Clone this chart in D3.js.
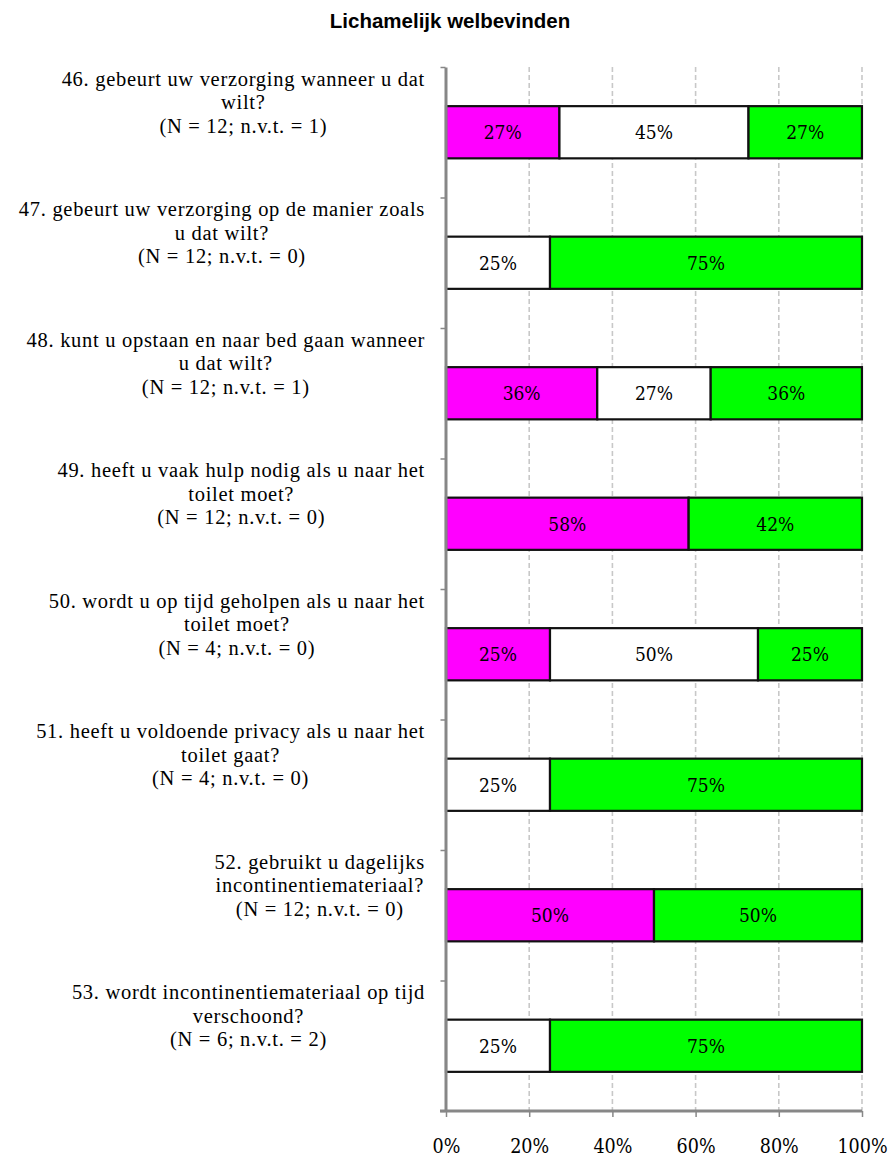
<!DOCTYPE html>
<html>
<head>
<meta charset="utf-8">
<script src="https://cdn.jsdelivr.net/npm/d3@7/dist/d3.min.js"></script>
<style>
  html, body { margin: 0; padding: 0; background: #fff; }
  svg { display: block; }
</style>
</head>
<body>
<svg id="chart" width="895" height="1158"></svg>
<script>
// Questions (each drawn as up to three centred lines)
const questions = [
  ["46. gebeurt uw verzorging wanneer u dat", "wilt?", "(N = 12; n.v.t. = 1)"],
  ["47. gebeurt uw verzorging op de manier zoals", "u dat wilt?", "(N = 12; n.v.t. = 0)"],
  ["48. kunt u opstaan en naar bed gaan wanneer", "u dat wilt?", "(N = 12; n.v.t. = 1)"],
  ["49. heeft u vaak hulp nodig als u naar het", "toilet moet?", "(N = 12; n.v.t. = 0)"],
  ["50. wordt u op tijd geholpen als u naar het", "toilet moet?", "(N = 4; n.v.t. = 0)"],
  ["51. heeft u voldoende privacy als u naar het", "toilet gaat?", "(N = 4; n.v.t. = 0)"],
  ["52. gebruikt u dagelijks", "incontinentiemateriaal?", "(N = 12; n.v.t. = 0)"],
  ["53. wordt incontinentiemateriaal op tijd", "verschoond?", "(N = 6; n.v.t. = 2)"]
];

// Answer shares in percent, per question
const valuesPink  = [27.27, 0,  36.36, 58.33, 25, 0,  50, 0];
const valuesWhite = [45.45, 25, 27.27, 0,     50, 25, 0,  25];
const valuesGreen = [27.27, 75, 36.36, 41.67, 25, 75, 50, 75];

const seriesKeys   = ["pink", "white", "green"];
const seriesColors = ["#ff00ff", "#ffffff", "#00ff00"];

const xTicks = [0, 20, 40, 60, 80, 100];

const titleText = "Lichamelijk welbevinden";

// ---- layout
const plotLeft = 446, plotRight = 862, plotTop = 67, plotBottom = 1111;

const svg = d3.select("#chart");

const rows = questions.map((q, i) => ({
  id: i,
  lines: q,
  pink: valuesPink[i],
  white: valuesWhite[i],
  green: valuesGreen[i]
}));

const x = d3.scaleLinear().domain([0, 100]).range([plotLeft, plotRight]);
const y = d3.scaleBand()
  .domain(rows.map(d => d.id))
  .range([plotTop, plotBottom])
  .paddingInner(0.6)
  .paddingOuter(0.3);

const stacked = d3.stack().keys(seriesKeys)(rows);

// title
svg.append("text")
  .attr("x", 450).attr("y", 28)
  .attr("text-anchor", "middle")
  .style("font-family", "'Liberation Sans', Arial, sans-serif")
  .style("font-weight", "bold")
  .style("font-size", "20.5px")
  .style("fill", "#000")
  .text(titleText);

// dashed vertical gridlines
svg.append("g")
  .selectAll("line")
  .data(xTicks.filter(t => t > 0))
  .join("line")
  .attr("x1", d => x(d)).attr("x2", d => x(d))
  .attr("y1", plotTop).attr("y2", plotBottom)
  .attr("stroke", "#c8c8c8")
  .attr("stroke-width", 1.6)
  .attr("stroke-dasharray", "5,3");

// stacked bar segments
const segs = [];
stacked.forEach((layer, k) => {
  layer.forEach(s => {
    const v = s.data[seriesKeys[k]];
    if (v > 0) segs.push({ row: s.data.id, x0: s[0], x1: s[1], v, color: seriesColors[k] });
  });
});

const barG = svg.append("g");
barG.selectAll("rect")
  .data(segs)
  .join("rect")
  .attr("x", d => x(d.x0))
  .attr("width", d => x(d.x1) - x(d.x0))
  .attr("y", d => y(d.row))
  .attr("height", y.bandwidth())
  .attr("fill", d => d.color)
  .attr("stroke", "#111")
  .attr("stroke-width", 2.2);

barG.selectAll("text")
  .data(segs)
  .join("text")
  .attr("x", d => x((d.x0 + d.x1) / 2))
  .attr("y", d => y(d.row) + y.bandwidth() / 2)
  .attr("dy", "0.36em")
  .attr("text-anchor", "middle")
  .style("font-family", "'DejaVu Serif Condensed', 'DejaVu Serif', serif")
  .style("font-stretch", "condensed")
  .style("font-size", "19px")
  .style("fill", "#000")
  .text(d => Math.round(d.v) + "%");

// left axis with ticks between the categories
const yEdge = d3.scaleLinear().domain([0, rows.length]).range([plotTop, plotBottom]);
const yAxisG = svg.append("g")
  .attr("transform", `translate(${plotLeft - 0.5},0)`)
  .call(d3.axisLeft(yEdge).ticks(rows.length).tickSize(5).tickSizeOuter(0).tickFormat(""));
yAxisG.select(".domain").attr("stroke", "#878787").attr("stroke-width", 3);
yAxisG.selectAll(".tick line").attr("stroke", "#878787").attr("stroke-width", 1.5);

// bottom axis
const xAxisG = svg.append("g")
  .attr("transform", `translate(0,${plotBottom})`)
  .call(d3.axisBottom(x).tickValues(xTicks).tickSize(6).tickSizeOuter(0).tickFormat(d => d + "%"));
xAxisG.select(".domain")
  .attr("d", `M${plotLeft - 6},0H${x(100)}`)
  .attr("stroke", "#878787").attr("stroke-width", 3);
xAxisG.selectAll(".tick line").attr("stroke", "#878787").attr("stroke-width", 1.5);
xAxisG.selectAll(".tick text")
  .attr("y", 42).attr("dy", null)
  .style("font-family", "'DejaVu Serif Condensed', 'DejaVu Serif', serif")
  .style("font-stretch", "condensed")
  .style("font-size", "19.5px")
  .style("fill", "#000");

// question labels: block right-aligned, lines centred within the block
const labelRight = 425;
const lineGap = 23.5;
const labelG = svg.append("g")
  .style("font-family", "'Liberation Serif', 'Times New Roman', serif")
  .style("font-size", "20.5px")
  .style("letter-spacing", "0.7px")
  .style("fill", "#000");

rows.forEach(r => {
  const g = labelG.append("g");
  const centre = y(r.id) + y.bandwidth() / 2;
  const texts = g.selectAll("text")
    .data(r.lines)
    .join("text")
    .attr("y", (d, i) => centre - 46.5 + i * lineGap)
    .attr("text-anchor", "middle")
    .text(d => d);
  let w = 0;
  texts.each(function () { w = Math.max(w, this.getComputedTextLength()); });
  texts.attr("x", labelRight - w / 2);
});
</script>
</body>
</html>
